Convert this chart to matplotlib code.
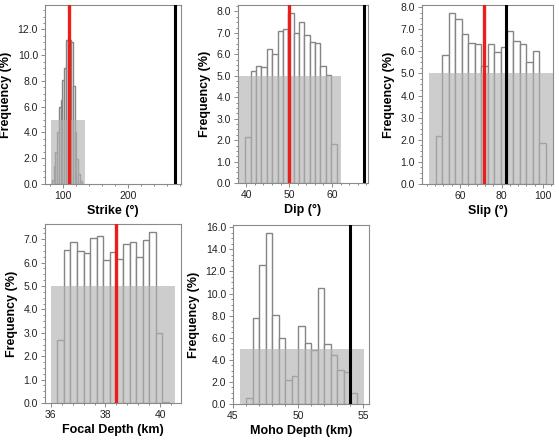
import numpy as np
import matplotlib
matplotlib.use("Agg")
from matplotlib import pyplot as plt
from matplotlib.ticker import MultipleLocator, AutoMinorLocator, FormatStrFormatter

plt.rcParams['font.family'] = ['Liberation Sans', 'DejaVu Sans']

# posterior histograms (frequency %), bins given by start + width
strike_start, strike_width = 82.5, 2.7
strike_freq = [0.3, 1.4, 2.5, 4.0, 6.0, 6.5, 8.1, 9.0, 11.2, 11.3, 11.2, 11.0, 7.6, 4.0, 1.9, 0.8, 0.2]

dip_start, dip_width = 39.8, 1.25
dip_freq = [2.17, 5.22, 5.47, 5.40, 6.26, 6.02, 7.07, 7.17, 7.92, 7.02, 7.52, 6.91,
            6.58, 6.54, 5.45, 5.06, 1.80]

slip_start, slip_width = 48.2, 3.13
slip_freq = [2.17, 5.85, 7.73, 7.47, 6.79, 6.38, 6.33, 5.32, 6.33, 5.95, 6.18, 6.90,
             6.48, 6.33, 5.50, 6.03, 1.83]

depth_start, depth_width = 36.24, 0.24
depth_freq = [2.70, 6.54, 6.87, 6.49, 6.41, 7.07, 7.12, 6.12, 6.46, 6.16, 6.80, 6.86,
              6.25, 6.97, 7.29, 2.99, 0.05]

moho_start, moho_width = 46.0, 0.5
moho_freq = [0.55, 7.79, 12.6, 15.5, 8.09, 5.97, 2.15, 2.55, 7.03, 5.52, 4.85, 10.48,
             5.45, 4.42, 3.12, 2.90, 1.00]

# uniform prior ranges (5 %), best-fit (red) and reference (black) values
prior_ranges = {'strike': (81, 134), 'dip': (38.3, 62.2), 'slip': (45, 105),
                'depth': (36.0, 40.55), 'moho': (45.5, 55.05)}
prior_level = 5.0
red_vals = {'strike': 109, 'dip': 50, 'slip': 71.7, 'depth': 38.4, 'moho': None}
black_vals = {'strike': 272, 'dip': 67.4, 'slip': 82.3, 'depth': None, 'moho': 54.0}

panels = [
    ('strike', strike_start, strike_width, strike_freq, 'Strike (°)', (72, 281.5), (0, 13.9), 100, 2.0,
     [0.0805, 0.582, 0.2433, 0.4068]),
    ('dip', dip_start, dip_width, dip_freq, 'Dip (°)', (38.1, 68.4), (0, 8.3), 10, 1.0,
     [0.4258, 0.584, 0.2326, 0.4045]),
    ('slip', slip_start, slip_width, slip_freq, 'Slip (°)', (41.7, 104.8), (0, 8.1), 20, 1.0,
     [0.755, 0.582, 0.2343, 0.4068]),
    ('depth', depth_start, depth_width, depth_freq, 'Focal Depth (km)', (35.79, 40.76), (0, 7.65), 2, 1.0,
     [0.0805, 0.0841, 0.2433, 0.4068]),
    ('moho', moho_start, moho_width, moho_freq, 'Moho Depth (km)', (45.0, 55.44), (0, 16.2), 5, 2.0,
     [0.4168, 0.0818, 0.2433, 0.4068]),
]

fig = plt.figure(figsize=(5.59, 4.40), dpi=100)

for key, start, width, freq, xlabel, xlim, ylim, xmaj, ymaj, rect in panels:
    ax = fig.add_axes(rect)
    lefts = start + width * np.arange(len(freq))
    ax.bar(lefts, freq, width=width, align='edge', color='white',
           edgecolor='#858585', linewidth=1.0, zorder=1)
    lo, hi = prior_ranges[key]
    ax.bar(lo, prior_level, width=hi - lo, align='edge', color='#b2b2b2',
           alpha=0.65, linewidth=0, zorder=2)
    if red_vals[key] is not None:
        ax.axvline(red_vals[key], color='#e8201c', lw=2.4, zorder=3)
    if black_vals[key] is not None:
        ax.axvline(black_vals[key], color='black', lw=2.2, zorder=3)
    ax.set_xlim(xlim)
    ax.set_ylim(ylim)
    ax.xaxis.set_major_locator(MultipleLocator(xmaj))
    ax.xaxis.set_minor_locator(AutoMinorLocator(5))
    ax.yaxis.set_major_locator(MultipleLocator(ymaj))
    ax.yaxis.set_minor_locator(AutoMinorLocator(4))
    ax.yaxis.set_major_formatter(FormatStrFormatter('%.1f'))
    ax.tick_params(which='both', direction='out', colors='#777777', labelcolor='#222222',
                   labelsize=7.5, width=0.6)
    ax.tick_params(which='major', length=3, pad=2)
    ax.tick_params(which='minor', length=1.5)
    for s in ax.spines.values():
        s.set_color('#8a8a8a')
        s.set_linewidth(0.8)
    ax.set_xlabel(xlabel, fontsize=9, fontweight='bold', labelpad=3)
    ax.set_ylabel('Frequency (%)', fontsize=9, fontweight='bold', labelpad=4)

fig.savefig('out.png', dpi=100)
